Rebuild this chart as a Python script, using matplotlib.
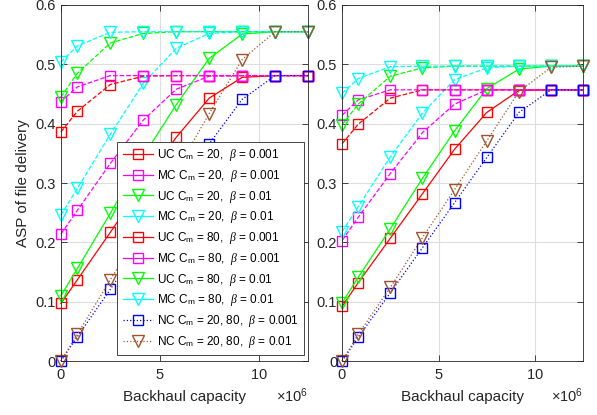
import matplotlib
matplotlib.use('Agg')
import matplotlib.pyplot as plt
from matplotlib.lines import Line2D
from matplotlib.ticker import ScalarFormatter

plt.rcParams['font.family'] = ['Liberation Sans', 'DejaVu Sans']
plt.rcParams['mathtext.fontset'] = 'custom'
plt.rcParams['mathtext.rm'] = 'Liberation Sans'
plt.rcParams['mathtext.it'] = 'Liberation Serif:italic'

# Backhaul capacity values (bits/s)
capacity = [0, 0.833e6, 2.5e6, 4.167e6, 5.833e6, 7.5e6, 9.167e6, 10.833e6, 12.5e6]

# Left panel
left = {
    'uc20_b3': [0.097, 0.137, 0.217, 0.298, 0.377, 0.443, 0.478, 0.481, 0.481],
    'mc20_b3': [0.214, 0.254, 0.333, 0.406, 0.458, 0.480, 0.481, 0.481, 0.481],
    'uc20_b2': [0.110, 0.156, 0.249, 0.345, 0.432, 0.510, 0.551, 0.555, 0.555],
    'mc20_b2': [0.246, 0.291, 0.382, 0.468, 0.527, 0.552, 0.555, 0.555, 0.555],
    'uc80_b3': [0.386, 0.421, 0.466, 0.480, 0.481, 0.481, 0.481, 0.481, 0.481],
    'mc80_b3': [0.437, 0.462, 0.481, 0.481, 0.481, 0.481, 0.481, 0.481, 0.481],
    'uc80_b2': [0.445, 0.485, 0.536, 0.552, 0.555, 0.555, 0.555, 0.555, 0.555],
    'mc80_b2': [0.504, 0.531, 0.554, 0.555, 0.555, 0.555, 0.555, 0.555, 0.555],
    'nc_b3':   [0.0, 0.041, 0.121, 0.202, 0.285, 0.366, 0.441, 0.481, 0.481],
    'nc_b2':   [0.0, 0.045, 0.137, 0.227, 0.320, 0.417, 0.508, 0.555, 0.555],
}

# Right panel
right = {
    'uc20_b3': [0.092, 0.132, 0.207, 0.282, 0.357, 0.419, 0.456, 0.457, 0.457],
    'mc20_b3': [0.203, 0.242, 0.316, 0.385, 0.433, 0.457, 0.457, 0.457, 0.457],
    'uc20_b2': [0.098, 0.141, 0.223, 0.308, 0.388, 0.459, 0.492, 0.497, 0.497],
    'mc20_b2': [0.218, 0.260, 0.344, 0.418, 0.474, 0.494, 0.497, 0.497, 0.497],
    'uc80_b3': [0.366, 0.399, 0.443, 0.457, 0.457, 0.457, 0.457, 0.457, 0.457],
    'mc80_b3': [0.414, 0.440, 0.457, 0.457, 0.457, 0.457, 0.457, 0.457, 0.457],
    'uc80_b2': [0.398, 0.433, 0.480, 0.494, 0.497, 0.497, 0.497, 0.497, 0.497],
    'mc80_b2': [0.451, 0.476, 0.496, 0.497, 0.497, 0.497, 0.497, 0.497, 0.497],
    'nc_b3':   [0.0, 0.040, 0.115, 0.191, 0.267, 0.343, 0.419, 0.457, 0.457],
    'nc_b2':   [0.0, 0.045, 0.124, 0.208, 0.289, 0.371, 0.454, 0.495, 0.497],
}

labels = {
    'uc20_b3': r'UC C$_{\rm m}$ = 20,  $\beta$ = 0.001',
    'mc20_b3': r'MC C$_{\rm m}$ = 20,  $\beta$ = 0.001',
    'uc20_b2': r'UC C$_{\rm m}$ = 20,  $\beta$ = 0.01',
    'mc20_b2': r'MC C$_{\rm m}$ = 20,  $\beta$ = 0.01',
    'uc80_b3': r'UC C$_{\rm m}$ = 80,  $\beta$ = 0.001',
    'mc80_b3': r'MC C$_{\rm m}$ = 80,  $\beta$ = 0.001',
    'uc80_b2': r'UC C$_{\rm m}$ = 80,  $\beta$ = 0.01',
    'mc80_b2': r'MC C$_{\rm m}$ = 80,  $\beta$ = 0.01',
    'nc_b3':   r'NC C$_{\rm m}$ = 20, 80,  $\beta$ = 0.001',
    'nc_b2':   r'NC C$_{\rm m}$ = 20, 80,  $\beta$ = 0.01',
}

brown = '#a0522d'
# color, marker, linestyle
styles = {
    'uc20_b3': ('#ff0000', 's', '-'),
    'mc20_b3': ('#ff00ff', 's', '--'),
    'uc20_b2': ('#00ff00', 'v', '-'),
    'mc20_b2': ('#00ffff', 'v', '--'),
    'uc80_b3': ('#ff0000', 's', '--'),
    'mc80_b3': ('#ff00ff', 's', '--'),
    'uc80_b2': ('#00ff00', 'v', '--'),
    'mc80_b2': ('#00ffff', 'v', '--'),
    'nc_b3':   ('#0000ff', 's', ':'),
    'nc_b2':   (brown, 'v', ':'),
}

msize = {'s': 7, 'v': 9}

fig = plt.figure(figsize=(5.97, 4.15), dpi=100)
ax1 = fig.add_axes([0.102, 0.130, 0.414, 0.858])
ax2 = fig.add_axes([0.573, 0.130, 0.404, 0.858])


def draw(ax, data):
    for key, vals in data.items():
        c, m, ls = styles[key]
        ax.plot(capacity, vals, color=c, marker=m, linestyle=ls, lw=0.9,
                markersize=msize[m], markerfacecolor='none', markeredgewidth=1.0,
                clip_on=False)
    ax.set_xlim(0, 12.5e6)
    ax.set_ylim(0, 0.6)
    ax.set_xticks([0, 5e6, 10e6])
    ax.set_yticks([0, 0.1, 0.2, 0.3, 0.4, 0.5, 0.6])
    ax.set_yticklabels(['0', '0.1', '0.2', '0.3', '0.4', '0.5', '0.6'])
    fmt = ScalarFormatter(useMathText=True)
    fmt.set_powerlimits((6, 6))
    ax.xaxis.set_major_formatter(fmt)
    ax.grid(True, color='#dedede', lw=0.8)
    ax.set_axisbelow(True)
    ax.tick_params(direction='in', top=True, right=True, length=4,
                   labelsize=10.5, colors='#262626', width=0.6)
    ax.tick_params(axis='x', pad=5)
    for sp in ax.spines.values():
        sp.set_color('#262626')
        sp.set_linewidth(0.6)
    ax.set_xlabel('Backhaul capacity', fontsize=11, color='#262626', labelpad=6)
    ax.xaxis.get_offset_text().set_fontsize(10.5)


draw(ax1, left)
draw(ax2, right)
ax1.set_ylabel('ASP of file delivery', fontsize=11, color='#262626')

handles = []
for key in left:
    c, m, ls = styles[key]
    handles.append(Line2D([], [], color=c, marker=m, lw=0.9,
                          linestyle=':' if key.startswith('nc') else '-',
                          markersize=msize[m], markerfacecolor='none',
                          markeredgewidth=1.0, label=labels[key]))
leg = ax1.legend(handles=handles, loc='lower right', bbox_to_anchor=(0.984, 0.017),
                 fontsize=8.5, fancybox=False, framealpha=1, edgecolor='#262626',
                 handlelength=2.6, handletextpad=0.3, labelspacing=0.40,
                 borderpad=0.45, borderaxespad=0)
leg.get_frame().set_linewidth(0.6)

fig.savefig('out.png', dpi=100)
